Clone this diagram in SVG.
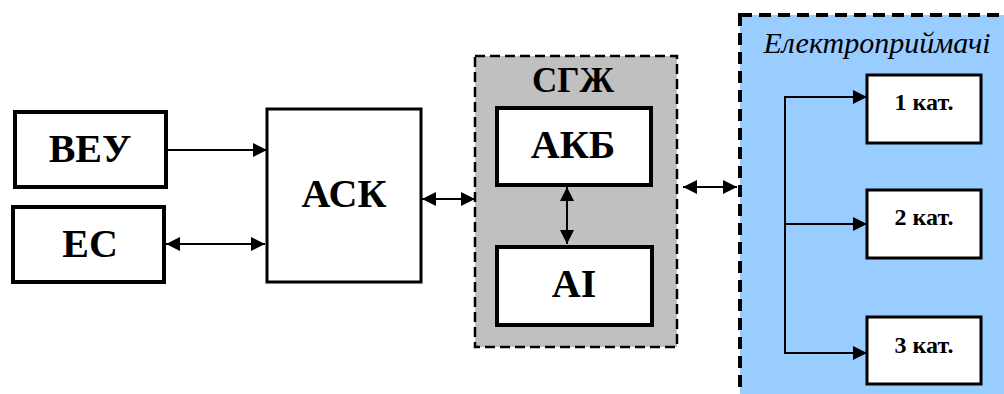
<svg xmlns="http://www.w3.org/2000/svg" width="1004" height="394" viewBox="0 0 1004 394">
<defs>
<marker id="ah" markerUnits="userSpaceOnUse" markerWidth="14" markerHeight="14" viewBox="0 0 14 14" refX="14" refY="7" orient="auto-start-reverse">
<path d="M0,0 L14,7 L0,14 Z" fill="#000"/>
</marker>
</defs>
<style>
.box{fill:#fff;stroke:#000;stroke-width:4}
.thin{fill:#fff;stroke:#000;stroke-width:3}
.lbl{font-family:'Liberation Serif','Times New Roman',serif;font-weight:bold;font-size:40px;text-anchor:middle;fill:#000}
.sm{font-size:24px}
.it{font-family:'Liberation Serif','Times New Roman',serif;font-style:italic;font-size:30px;text-anchor:middle;fill:#000}
.ln{fill:none;stroke:#000;stroke-width:2}
</style>
<rect width="1004" height="394" fill="#fff"/>
<g id="sgzh">
<rect x="475" y="56" width="202" height="291" fill="#c0c0c0" stroke="#000" stroke-width="2.5" stroke-dasharray="10,5"/>
<text class="lbl" x="573" y="92" style="font-size:35px">СГЖ</text>
</g>
<g id="elektropryimachi">
<rect x="740" y="15" width="280" height="400" fill="#99ccff" stroke="#000" stroke-width="4" stroke-dasharray="12,7"/>
<text class="it" x="877" y="53">Електроприймачі</text>
</g>
<g id="veu"><rect class="box" x="15" y="112" width="151" height="75"/><text class="lbl" x="90" y="162">ВЕУ</text></g>
<g id="es"><rect class="box" x="13" y="207" width="151" height="75"/><text class="lbl" x="90" y="257">ЕС</text></g>
<g id="ask"><rect class="thin" x="267" y="109" width="154" height="173"/><text class="lbl" x="344" y="207">АСК</text></g>
<g id="akb"><rect class="box" x="497" y="108" width="154" height="77"/><text class="lbl" x="573" y="158">АКБ</text></g>
<g id="ai"><rect class="box" x="497" y="247" width="155" height="78"/><text class="lbl" x="574" y="297">AI</text></g>
<g id="kat1"><rect class="thin" x="867" y="75" width="114" height="68"/><text class="lbl sm" x="924" y="110">1 кат.</text></g>
<g id="kat2"><rect class="thin" x="867" y="190" width="114" height="68"/><text class="lbl sm" x="924" y="225">2 кат.</text></g>
<g id="kat3"><rect class="thin" x="867" y="317" width="114" height="67"/><text class="lbl sm" x="924" y="353">3 кат.</text></g>
<g id="connectors">
<line class="ln" x1="168" y1="150" x2="267" y2="150" marker-end="url(#ah)"/>
<line class="ln" x1="166" y1="244" x2="265" y2="244" marker-start="url(#ah)" marker-end="url(#ah)"/>
<line class="ln" x1="422" y1="199" x2="475" y2="199" marker-start="url(#ah)" marker-end="url(#ah)"/>
<line class="ln" x1="567" y1="187" x2="567" y2="244" marker-start="url(#ah)" marker-end="url(#ah)"/>
<line class="ln" x1="683" y1="187" x2="737" y2="187" marker-start="url(#ah)" marker-end="url(#ah)"/>
<polyline class="ln" points="867,97 785,97 785,353 867,353" marker-start="url(#ah)" marker-end="url(#ah)"/>
<line class="ln" x1="785" y1="224" x2="867" y2="224" marker-end="url(#ah)"/>
</g>
</svg>
